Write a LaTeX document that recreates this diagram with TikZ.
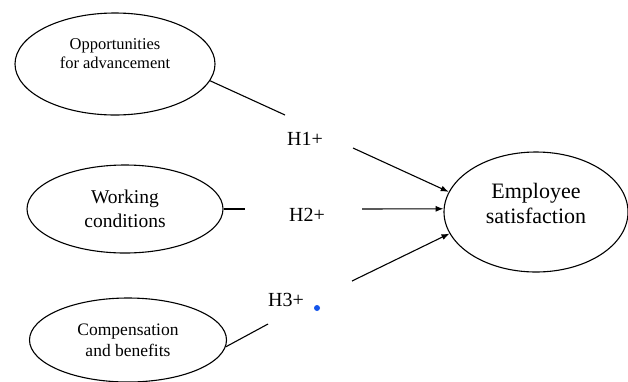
\documentclass[tikz,border=0pt]{standalone}
\usepackage{fontspec}
\setmainfont{LiberationSerif}[Extension=.ttf,UprightFont=*-Regular,BoldFont=*-Bold]
\usetikzlibrary{shapes.geometric,arrows.meta}
\definecolor{dotblue}{RGB}{20,85,235}

\begin{document}
\begin{tikzpicture}[x=1pt,y=-1pt,
    oval/.style={draw,ellipse,line width=1.1pt,inner sep=0pt,align=center},
    link/.style={line width=1.1pt},
    hyp/.style={font=\fontsize{20}{24}\selectfont}]
    \useasboundingbox (0,0) rectangle (628,381);
    % the four constructs
    \node[oval,minimum width=200pt,minimum height=102pt,
        label={[name=opptext,yshift=10pt,align=center,font=\fontsize{16.5}{19}\selectfont]center:{Opportunities\\for advancement}}]
        (opp) at (115,64) {};
    \node[oval,minimum width=196pt,minimum height=88pt,font=\fontsize{19.5}{24}\selectfont]
        (work) at (125,209) {Working\\conditions};
    \node[oval,minimum width=197pt,minimum height=84pt,font=\fontsize{17.5}{21}\selectfont]
        (comp) at (128,340) {Compensation\\and benefits};
    \node[oval,minimum width=184pt,minimum height=120pt,
        label={[name=emptext,yshift=9pt,align=center,font=\fontsize{22}{25}\selectfont]center:{Employee\\satisfaction}}]
        (emp) at (536,212) {};
    % hypotheses
    \node[hyp] (h1) at (305,139) {H1+};
    \node[hyp] (h2) at (307,215) {H2+};
    \node[hyp] (h3) at (286,300) {H3+};
    \node[circle,fill=dotblue,inner sep=0pt,minimum size=6pt] (dot) at (317,308) {};
    \coordinate (opp-end) at (285,115);
    \coordinate (work-end) at (245,209);
    \coordinate (comp-end) at (268,324);
    \coordinate (a1) at (353,148);
    \coordinate (a2) at (362,209);
    \coordinate (a3) at (352,281);
    \draw[link] (opp.-10) -- (opp-end);
    \draw[link] (work) -- (work-end);
    \draw[link] (comp.-4) -- (comp-end);
    \draw[link,-{Latex[length=8pt,width=6pt]}] (a1) -- (emp.167);
    \draw[link,-{Latex[length=8pt,width=6pt]}] (a2) -- (emp.178);
    \draw[link,-{Latex[length=8pt,width=6pt]}] (a3) -- (emp.194);
\end{tikzpicture}
\end{document}
